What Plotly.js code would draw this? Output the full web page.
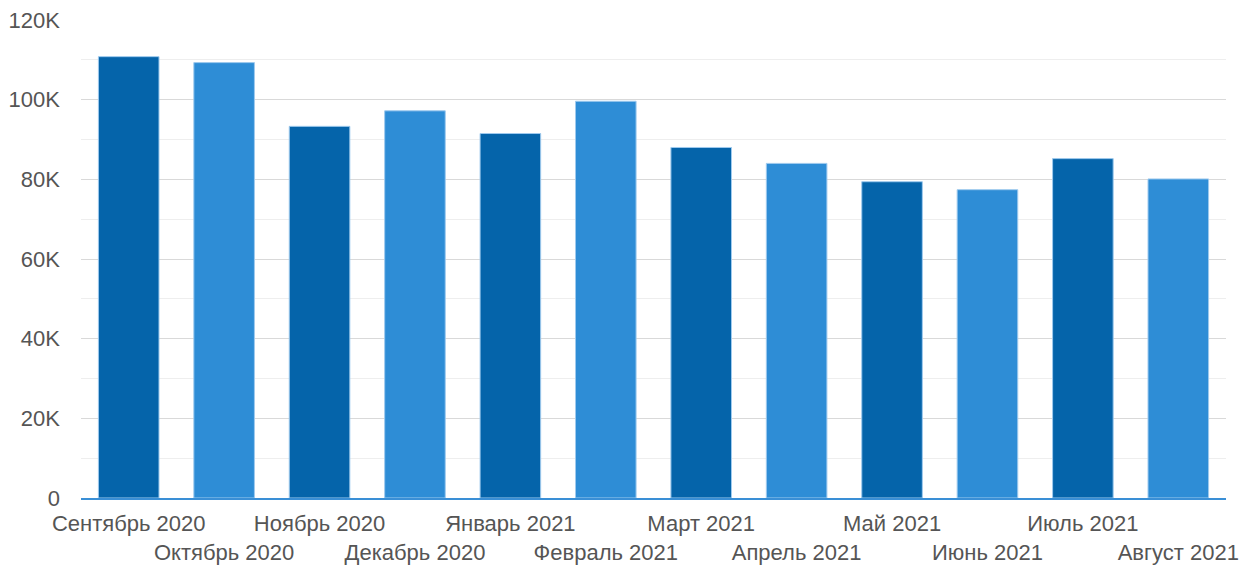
<!DOCTYPE html>
<html>
<head>
<meta charset="utf-8">
<script src="https://cdn.plot.ly/plotly-3.0.1.min.js"></script>
<style>html,body{margin:0;padding:0;background:#fff;}#chart{width:1254px;height:569px;}</style>
</head>
<body>
<div id="chart"></div>
<script>
const months = ["Сентябрь 2020","Октябрь 2020","Ноябрь 2020","Декабрь 2020","Январь 2021","Февраль 2021","Март 2021","Апрель 2021","Май 2021","Июнь 2021","Июль 2021","Август 2021"];
const values = [110800, 109300, 93300, 97200, 91500, 99600, 88000, 84000, 79400, 77400, 85200, 80100];
const yTickVals = [0, 20000, 40000, 60000, 80000, 100000, 120000];
const yTickText = ["0", "20K", "40K", "60K", "80K", "100K", "120K"];

const darkBlue = "#0564aa", lightBlue = "#2e8dd6";
const idx = months.map((m, i) => i);
const colors = idx.map(i => i % 2 === 0 ? darkBlue : lightBlue);
const tickText = months.map((m, i) => i % 2 === 0 ? m : "<br>" + m);

const trace = {
  type: "bar",
  x: idx,
  y: values,
  marker: {color: colors, line: {color: "#9fcaee", width: 1}},
  hoverinfo: "x+y"
};

const layout = {
  width: 1254, height: 569,
  margin: {l: 81, r: 28, t: 19.5, b: 71},
  paper_bgcolor: "#fff", plot_bgcolor: "#fff",
  bargap: 0.365,
  showlegend: false,
  font: {family: "Arial, 'Liberation Sans', sans-serif", size: 22, color: "#555"},
  xaxis: {
    tickvals: idx, ticktext: tickText, tickangle: 0,
    range: [-0.5, months.length - 0.5],
    showgrid: false, zeroline: false,
    showline: true, linecolor: "#3a8fd6", linewidth: 1.5,
    ticks: "", ticklabelstandoff: 5,
    tickfont: {size: 22, color: "#555"}
  },
  yaxis: {
    range: [0, 120000],
    tickvals: yTickVals, ticktext: yTickText,
    showgrid: true, gridcolor: "#d9d9d9", gridwidth: 1,
    minor: {dtick: 10000, showgrid: true, gridcolor: "#eeeeee", gridwidth: 1},
    zeroline: false, showline: false, ticks: "",
    ticklabelstandoff: 20,
    tickfont: {size: 22, color: "#555"}
  }
};

Plotly.newPlot("chart", [trace], layout, {displayModeBar: false, staticPlot: true});
</script>
</body>
</html>
